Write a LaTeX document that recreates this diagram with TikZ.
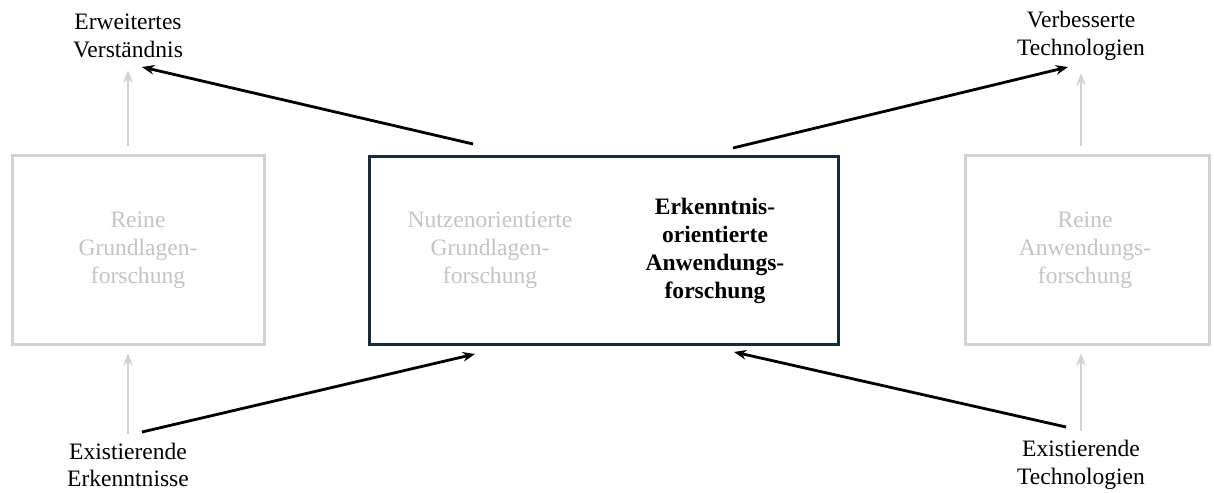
\documentclass[tikz,border=0pt]{standalone}
\usepackage{fontspec}
\setmainfont{Liberation Serif}
\usetikzlibrary{arrows.meta}
\definecolor{hellgrau}{RGB}{210,210,210}
\definecolor{textgrau}{RGB}{196,196,196}
\definecolor{dunkelblau}{RGB}{22,42,56}
\newcommand{\schrift}{\fontsize{13.4}{15.8}\selectfont}
\tikzset{
  kasten/.style={draw=hellgrau, line width=1.7pt, minimum height=3.8cm},
  grautext/.style={text=textgrau, align=center, font=\schrift, inner sep=0pt},
  label/.style={align=center, font=\schrift, inner sep=0pt},
  pfeil/.style={-{Stealth[length=7pt,width=5.5pt]}, line width=1.6pt, black},
  graupfeil/.style={-{Stealth[length=7pt,width=5.5pt]}, line width=1.2pt, hellgrau}
}

\begin{document}
\begin{tikzpicture}[x=0.02cm, y=-0.02cm]
  \useasboundingbox (0,0) rectangle (1214,493);
  % Kaesten
  \node[kasten, minimum width=5.06cm] (grund) at (138.5,250) {};
  \node[kasten, minimum width=4.9cm] (anwend) at (1087.5,250) {};
  \node[kasten, draw=dunkelblau, minimum width=9.4cm, minimum height=3.76cm] (mitte) at (604,250.5) {};
  \node[grautext] (tgrund) at (138,250) {Reine\\Grundlagen-\\forschung};
  \node[grautext] (tanwend) at (1085,250) {Reine\\Anwendungs-\\forschung};
  \node[grautext] (tnutzen) at (490,250) {Nutzenorientierte\\Grundlagen-\\forschung};
  \node[label, font=\schrift\bfseries] (terkennt) at (715,251) {Erkenntnis-\\orientierte\\Anwendungs-\\forschung};
  % Beschriftungen oben und unten
  \node[label] (erw) at (128,36) {Erweitertes\\Verständnis};
  \node[label] (verb) at (1081,36) {Verbesserte\\Technologien};
  \node[label] (exerk) at (128,465) {Existierende\\Erkenntnisse};
  \node[label] (extech) at (1081,465) {Existierende\\Technologien};
  % graue Pfeile
  \draw[graupfeil, shorten <=4.5pt, shorten >=7pt] (grund.north -| erw.south) -- (erw.south);
  \draw[graupfeil, shorten <=5pt, shorten >=4pt] (exerk.north) -- (grund.south -| exerk.north);
  \draw[graupfeil, shorten <=4.5pt, shorten >=7pt] (anwend.north -| verb.south) -- (verb.south);
  \draw[graupfeil, shorten <=5pt, shorten >=4pt] (extech.north) -- (anwend.south -| extech.north);
  % schwarze Pfeile
  \coordinate (mOL) at (473,144);
  \coordinate (mOR) at (733,148);
  \coordinate (mUL) at (475,354);
  \coordinate (mUR) at (734,352);
  \coordinate (zErw) at (142,67);
  \coordinate (zVerb) at (1068,67);
  \coordinate (qErk) at (142,432);
  \coordinate (qTech) at (1066,427);
  \draw[pfeil] (mOL) -- (zErw);
  \draw[pfeil] (mOR) -- (zVerb);
  \draw[pfeil] (qErk) -- (mUL);
  \draw[pfeil] (qTech) -- (mUR);
\end{tikzpicture}
\end{document}
